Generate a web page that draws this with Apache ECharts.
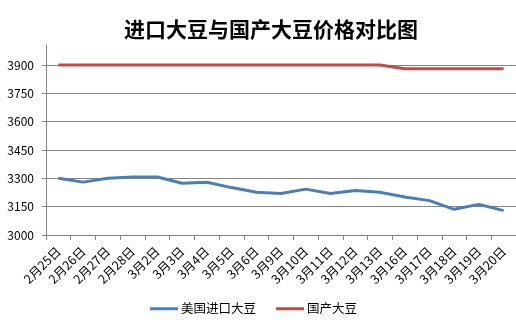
<!DOCTYPE html>
<html>
<head>
<meta charset="utf-8">
<script src="https://cdn.jsdelivr.net/npm/echarts@6/dist/echarts.min.js"></script>
<style>
  html, body { margin: 0; padding: 0; background: #fff; }
  #chart { width: 516px; height: 328px; }
</style>
</head>
<body>
<div id="chart"></div>
<script>
// Trading days
const categories = ['2月25日', '2月26日', '2月27日', '2月28日', '3月2日', '3月3日', '3月4日', '3月5日', '3月6日', '3月9日',
  '3月10日', '3月11日', '3月12日', '3月13日', '3月16日', '3月17日', '3月18日', '3月19日', '3月20日'];

// Prices (元/吨)
const importedSoy = [3300, 3280, 3300, 3307, 3307, 3274, 3279, 3251, 3226, 3220,
  3243, 3220, 3236, 3226, 3201, 3182, 3136, 3162, 3129];
const domesticSoy = [3900, 3900, 3900, 3900, 3900, 3900, 3900, 3900, 3900, 3900,
  3900, 3900, 3900, 3900, 3880, 3880, 3880, 3880, 3880];

const seriesNames = ['美国进口大豆', '国产大豆'];
const yMin = 3000, yStep = 150, yTop = 4006;

const chart = echarts.init(document.getElementById('chart'));
const FONT = '"Noto Sans CJK SC", "Noto Sans", sans-serif';
const gray = '#868686';

chart.setOption({
  animation: false,
  backgroundColor: '#ffffff',
  textStyle: { fontFamily: FONT },
  title: {
    text: '进口大豆与国产大豆价格对比图',
    left: 119,
    top: 14,
    textStyle: { fontFamily: FONT, fontSize: 21, fontWeight: 'bold', color: '#000' }
  },
  legend: {
    bottom: 8,
    left: 145,
    itemWidth: 28,
    itemHeight: 3,
    itemGap: 20,
    icon: 'rect',
    textStyle: { fontSize: 12.5, color: '#000', padding: [0, 0, 0, -2] },
    data: seriesNames
  },
  grid: { left: 46, right: -3, top: 45, bottom: 93 },
  xAxis: {
    type: 'category',
    data: categories,
    boundaryGap: true,
    axisLine: { lineStyle: { color: gray, width: 1 } },
    axisTick: { show: true, length: 5, lineStyle: { color: gray } },
    axisLabel: { rotate: 45, fontSize: 12.5, color: '#000', margin: 14, interval: 0 },
    splitLine: { show: false }
  },
  yAxis: {
    type: 'value',
    min: yMin,
    max: yTop,
    interval: yStep,
    axisLine: { show: true, lineStyle: { color: gray, width: 1 } },
    axisTick: { show: true, length: 4, lineStyle: { color: gray } },
    axisLabel: { fontSize: 12, color: '#000', margin: 12, showMaxLabel: false, formatter: v => String(v) },
    splitLine: { show: true, showMaxLine: false, lineStyle: { color: gray, width: 1 } }
  },
  series: [
    {
      name: seriesNames[0],
      type: 'line',
      data: importedSoy,
      symbol: 'none',
      lineStyle: { width: 3, color: '#4a7ebb' },
      itemStyle: { color: '#4a7ebb' }
    },
    {
      name: seriesNames[1],
      type: 'line',
      data: domesticSoy,
      symbol: 'none',
      lineStyle: { width: 3, color: '#be4b48' },
      itemStyle: { color: '#be4b48' }
    }
  ]
});
</script>
</body>
</html>
